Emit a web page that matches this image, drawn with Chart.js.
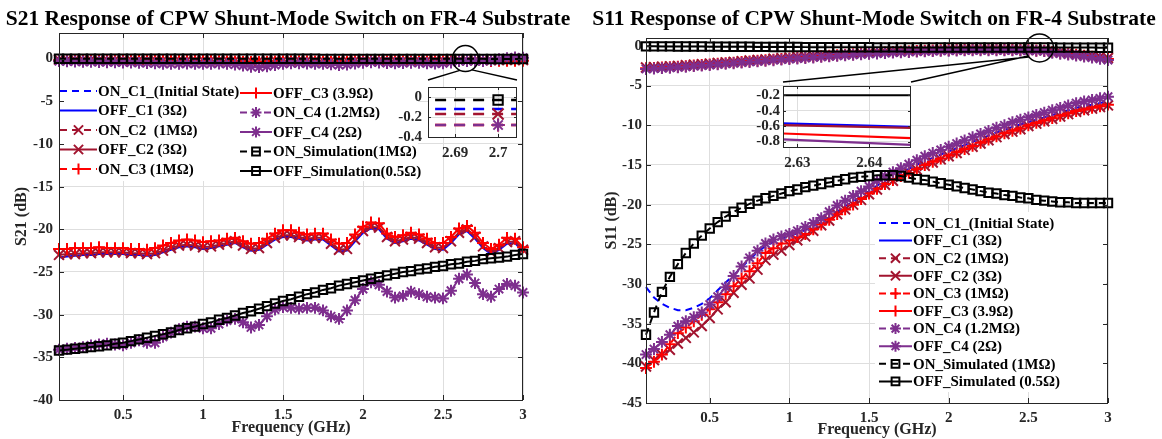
<!DOCTYPE html>
<html lang="en">
<head>
    <meta charset="UTF-8">
    <title>S21 / S11 Response of CPW Shunt-Mode Switch</title>
    <script src="https://cdn.jsdelivr.net/npm/chart.js"></script>
    <style>
        body { margin: 0; background: #fff; }
        #wrap { position: relative; width: 1162px; height: 439px; overflow: hidden; }
        #wrap canvas { position: absolute; }
        .title {
            position: absolute; top: 4px; height: 28px; line-height: 28px;
            transform: translateX(-50%); white-space: nowrap;
            font-family: 'Liberation Serif', 'Times New Roman', serif;
            font-weight: bold; font-size: 21.5px; color: #000;
        }
    </style>
</head>
<body>
<div id="wrap">
    <canvas id="s21" width="585" height="439" style="left:0;top:0;width:585px;height:439px"></canvas>
    <canvas id="s11" width="577" height="439" style="left:585px;top:0;width:577px;height:439px"></canvas>
    <canvas id="s21in" width="151" height="95" style="left:380px;top:72px;width:151px;height:95px"></canvas>
    <canvas id="s11in" width="190" height="103" style="left:735px;top:74px;width:190px;height:103px"></canvas>
    <div class="title" style="left:288px">S21 Response of CPW Shunt-Mode Switch on FR-4 Substrate</div>
    <div class="title" style="left:874px">S11 Response of CPW Shunt-Mode Switch on FR-4 Substrate</div>
</div>

<script>
// frequency points (GHz)
const freq = [
    0.1, 0.15, 0.2, 0.25, 0.3, 0.35, 0.4, 0.45, 0.5, 0.55,
    0.6, 0.65, 0.7, 0.75, 0.8, 0.85, 0.9, 0.95, 1.0, 1.05,
    1.1, 1.15, 1.2, 1.25, 1.3, 1.35, 1.4, 1.45, 1.5, 1.55,
    1.6, 1.65, 1.7, 1.75, 1.8, 1.85, 1.9, 1.95, 2.0, 2.05,
    2.1, 2.15, 2.2, 2.25, 2.3, 2.35, 2.4, 2.45, 2.5, 2.55,
    2.6, 2.65, 2.7, 2.75, 2.8, 2.85, 2.9, 2.95, 3.0
];

// ---- S21 (dB) ----
const s21OnC1 = [
    -0.08, -0.08, -0.09, -0.09, -0.09, -0.1, -0.1, -0.1, -0.1, -0.11,
    -0.11, -0.11, -0.12, -0.12, -0.12, -0.12, -0.13, -0.13, -0.13, -0.13,
    -0.14, -0.14, -0.15, -0.16, -0.17, -0.17, -0.16, -0.15, -0.14, -0.14,
    -0.14, -0.15, -0.15, -0.15, -0.16, -0.17, -0.16, -0.15, -0.14, -0.13,
    -0.13, -0.14, -0.14, -0.14, -0.13, -0.13, -0.14, -0.14, -0.14, -0.13,
    -0.12, -0.12, -0.12, -0.12, -0.12, -0.11, -0.1, -0.1, -0.11
];
const s21OffC1 = [
    -23.3, -23.2, -23.1, -23.0, -23.0, -22.9, -22.9, -22.9, -22.9, -23.0,
    -23.0, -23.1, -23.0, -22.7, -22.4, -22.1, -22.0, -22.1, -22.3, -22.2,
    -22.0, -21.8, -21.6, -22.1, -22.5, -22.4, -21.8, -21.2, -20.9, -20.9,
    -21.1, -21.3, -21.2, -21.2, -21.9, -22.6, -22.5, -21.4, -20.4, -19.9,
    -20.0, -21.1, -21.6, -21.4, -21.1, -21.3, -21.8, -22.3, -22.4, -21.6,
    -20.6, -20.2, -21.1, -22.2, -22.9, -22.4, -21.7, -21.6, -22.6
];
const s21OnC2 = [
    -0.12, -0.12, -0.13, -0.13, -0.13, -0.14, -0.14, -0.14, -0.15, -0.15,
    -0.15, -0.16, -0.16, -0.17, -0.17, -0.17, -0.18, -0.18, -0.18, -0.18,
    -0.19, -0.19, -0.2, -0.22, -0.24, -0.24, -0.22, -0.2, -0.19, -0.19,
    -0.19, -0.2, -0.2, -0.21, -0.22, -0.23, -0.22, -0.2, -0.19, -0.18,
    -0.18, -0.19, -0.19, -0.19, -0.18, -0.18, -0.19, -0.19, -0.19, -0.18,
    -0.17, -0.17, -0.17, -0.17, -0.17, -0.16, -0.15, -0.15, -0.16
];
const s21OffC2 = [
    -23.0, -22.9, -22.9, -22.8, -22.8, -22.7, -22.7, -22.7, -22.7, -22.8,
    -22.8, -22.9, -22.8, -22.5, -22.2, -21.9, -21.8, -21.9, -22.1, -22.0,
    -21.8, -21.6, -21.4, -21.9, -22.3, -22.2, -21.6, -21.0, -20.7, -20.7,
    -20.9, -21.1, -21.0, -21.0, -21.7, -22.4, -22.3, -21.2, -20.2, -19.7,
    -19.8, -20.9, -21.4, -21.2, -20.9, -21.1, -21.6, -22.1, -22.2, -21.4,
    -20.4, -20.0, -20.9, -22.0, -22.7, -22.2, -21.5, -21.4, -22.4
];
const s21OnC3 = [
    -0.18, -0.18, -0.19, -0.19, -0.2, -0.2, -0.21, -0.21, -0.22, -0.22,
    -0.23, -0.23, -0.24, -0.25, -0.26, -0.26, -0.27, -0.27, -0.28, -0.28,
    -0.29, -0.3, -0.32, -0.35, -0.38, -0.38, -0.35, -0.32, -0.3, -0.3,
    -0.3, -0.31, -0.32, -0.33, -0.35, -0.36, -0.34, -0.31, -0.29, -0.28,
    -0.28, -0.29, -0.3, -0.3, -0.29, -0.29, -0.3, -0.31, -0.31, -0.3,
    -0.28, -0.28, -0.28, -0.28, -0.28, -0.27, -0.26, -0.25, -0.26
];
const s21OffC3 = [
    -22.3, -22.3, -22.2, -22.2, -22.2, -22.1, -22.2, -22.2, -22.2, -22.3,
    -22.3, -22.4, -22.2, -21.9, -21.6, -21.3, -21.2, -21.3, -21.5, -21.4,
    -21.3, -21.1, -21.0, -21.4, -21.7, -21.6, -21.1, -20.5, -20.1, -20.1,
    -20.4, -20.6, -20.5, -20.5, -21.2, -21.7, -21.6, -20.6, -19.7, -19.2,
    -19.3, -20.5, -20.9, -20.7, -20.4, -20.6, -21.1, -21.6, -21.6, -20.9,
    -19.9, -19.6, -20.4, -21.6, -22.3, -21.8, -21.0, -21.1, -22.1
];
const s21OnC4 = [
    -0.3, -0.32, -0.35, -0.37, -0.38, -0.4, -0.42, -0.44, -0.45, -0.47,
    -0.5, -0.52, -0.55, -0.6, -0.62, -0.6, -0.58, -0.6, -0.62, -0.6,
    -0.58, -0.62, -0.7, -0.82, -0.95, -1.0, -0.9, -0.75, -0.62, -0.55,
    -0.55, -0.58, -0.6, -0.62, -0.68, -0.75, -0.7, -0.58, -0.48, -0.42,
    -0.45, -0.52, -0.55, -0.52, -0.48, -0.5, -0.55, -0.58, -0.55, -0.45,
    -0.3, -0.28, -0.28, -0.28, -0.2, -0.08, 0.05, 0.15, 0.1
];
const s21OffC4 = [
    -34.1, -34.0, -33.9, -33.8, -33.6, -33.5, -33.4, -33.5, -33.6, -33.3,
    -33.0, -33.3, -33.3, -32.6, -32.1, -31.7, -31.4, -31.4, -31.6, -31.6,
    -31.1, -30.7, -30.5, -30.9, -31.5, -31.2, -30.2, -29.4, -29.1, -29.2,
    -29.3, -29.2, -29.2, -29.5, -30.2, -30.5, -29.5, -28.3, -27.0, -26.2,
    -26.5, -27.3, -28.0, -27.8, -27.3, -27.6, -27.9, -28.0, -28.1, -27.2,
    -25.8, -25.3, -26.3, -27.6, -27.9, -27.0, -26.4, -26.6, -27.4
];
const s21OnSim = [
    -0.01, -0.01, -0.01, -0.01, -0.01, -0.01, -0.01, -0.01, -0.01, -0.01,
    -0.01, -0.01, -0.02, -0.02, -0.02, -0.02, -0.02, -0.02, -0.02, -0.02,
    -0.02, -0.02, -0.02, -0.02, -0.02, -0.02, -0.02, -0.02, -0.02, -0.02,
    -0.02, -0.02, -0.02, -0.03, -0.03, -0.03, -0.03, -0.03, -0.03, -0.03,
    -0.03, -0.03, -0.03, -0.03, -0.03, -0.03, -0.03, -0.03, -0.03, -0.03,
    -0.03, -0.03, -0.03, -0.03, -0.04, -0.04, -0.04, -0.04, -0.04
];
const s21OffSim = [
    -34.2, -34.1, -34.0, -33.9, -33.8, -33.7, -33.6, -33.4, -33.3, -33.1,
    -32.9, -32.7, -32.5, -32.3, -32.1, -31.8, -31.6, -31.4, -31.1, -30.9,
    -30.6, -30.4, -30.1, -29.8, -29.6, -29.3, -29.0, -28.7, -28.4, -28.2,
    -27.9, -27.6, -27.4, -27.1, -26.9, -26.6, -26.4, -26.2, -26.0, -25.8,
    -25.6, -25.4, -25.2, -25.0, -24.9, -24.7, -24.6, -24.4, -24.3, -24.1,
    -24.0, -23.8, -23.7, -23.5, -23.4, -23.3, -23.2, -23.0, -22.9
];

// ---- S11 (dB) ----
const s11OnC1 = [
    -30.4, -31.7, -32.5, -33.0, -33.3, -33.3, -33.0, -32.5, -31.8, -30.8,
    -29.8, -28.9, -27.9, -26.9, -26.0, -25.2, -24.7, -24.3, -24.0, -23.6,
    -23.2, -22.7, -22.2, -21.6, -20.9, -20.2, -19.6, -19.0, -18.3, -17.6,
    -17.0, -16.5, -16.0, -15.5, -15.0, -14.5, -14.1, -13.7, -13.3, -12.9,
    -12.5, -12.1, -11.7, -11.3, -10.9, -10.6, -10.2, -9.9, -9.6, -9.3,
    -9.0, -8.7, -8.4, -8.1, -7.8, -7.6, -7.4, -7.2, -7.0
];
const s11OffC1 = [
    -2.7, -2.65, -2.6, -2.55, -2.5, -2.42, -2.35, -2.28, -2.2, -2.13,
    -2.05, -1.98, -1.9, -1.82, -1.75, -1.68, -1.6, -1.52, -1.45, -1.38,
    -1.32, -1.25, -1.18, -1.12, -1.05, -0.98, -0.92, -0.86, -0.8, -0.75,
    -0.7, -0.65, -0.6, -0.56, -0.52, -0.48, -0.45, -0.42, -0.4, -0.38,
    -0.37, -0.36, -0.36, -0.36, -0.37, -0.38, -0.4, -0.42, -0.44, -0.46,
    -0.49, -0.62, -0.73, -0.84, -0.96, -1.08, -1.21, -1.35, -1.5
];
const s11OnC2 = [
    -40.4, -39.6, -38.9, -38.3, -37.5, -36.8, -36.1, -35.3, -34.3, -33.2,
    -32.3, -31.1, -30.1, -29.3, -28.2, -27.0, -26.3, -25.8, -25.1, -24.5,
    -24.0, -23.3, -22.6, -22.0, -21.2, -20.6, -20.0, -19.4, -18.7, -18.1,
    -17.5, -17.0, -16.5, -16.0, -15.6, -15.1, -14.7, -14.3, -13.9, -13.5,
    -13.1, -12.7, -12.3, -11.9, -11.5, -11.1, -10.8, -10.5, -10.1, -9.8,
    -9.5, -9.2, -8.9, -8.6, -8.3, -8.1, -7.9, -7.7, -7.5
];
const s11OffC2 = [
    -2.72, -2.67, -2.62, -2.57, -2.52, -2.44, -2.37, -2.3, -2.22, -2.15,
    -2.07, -2.0, -1.92, -1.84, -1.77, -1.7, -1.62, -1.54, -1.47, -1.4,
    -1.34, -1.27, -1.2, -1.14, -1.07, -1.0, -0.94, -0.88, -0.82, -0.77,
    -0.72, -0.67, -0.62, -0.58, -0.54, -0.5, -0.47, -0.44, -0.42, -0.4,
    -0.39, -0.38, -0.38, -0.38, -0.39, -0.4, -0.42, -0.44, -0.47, -0.5,
    -0.53, -0.63, -0.74, -0.85, -0.97, -1.09, -1.22, -1.36, -1.51
];
const s11OnC3 = [
    -40.6, -39.8, -38.9, -37.6, -36.2, -35.5, -34.7, -33.9, -33.2, -32.3,
    -31.3, -30.3, -29.3, -28.4, -27.4, -26.1, -25.5, -24.9, -24.5, -24.1,
    -23.7, -23.1, -22.5, -21.9, -21.2, -20.6, -20.0, -19.3, -18.6, -18.0,
    -17.4, -16.9, -16.4, -16.0, -15.5, -15.0, -14.6, -14.2, -13.8, -13.4,
    -13.0, -12.6, -12.2, -11.8, -11.4, -11.0, -10.7, -10.4, -10.0, -9.7,
    -9.4, -9.1, -8.8, -8.5, -8.2, -8.0, -7.8, -7.6, -7.4
];
const s11OffC3 = [
    -2.82, -2.77, -2.72, -2.67, -2.62, -2.54, -2.47, -2.4, -2.32, -2.25,
    -2.17, -2.1, -2.02, -1.94, -1.87, -1.8, -1.72, -1.64, -1.57, -1.5,
    -1.44, -1.37, -1.3, -1.24, -1.17, -1.1, -1.04, -0.98, -0.92, -0.87,
    -0.82, -0.77, -0.72, -0.68, -0.64, -0.6, -0.57, -0.54, -0.52, -0.5,
    -0.48, -0.47, -0.46, -0.46, -0.47, -0.48, -0.5, -0.52, -0.54, -0.57,
    -0.6, -0.77, -0.88, -0.99, -1.1, -1.22, -1.35, -1.49, -1.64
];
const s11OnC4 = [
    -38.9, -38.2, -37.3, -36.4, -35.3, -34.7, -34.2, -33.6, -32.6, -31.6,
    -30.4, -29.0, -27.8, -26.7, -25.8, -24.9, -24.4, -24.0, -23.7, -23.3,
    -22.8, -22.3, -21.7, -20.9, -20.1, -19.5, -18.9, -18.3, -17.7, -17.0,
    -16.4, -15.9, -15.4, -14.9, -14.4, -13.9, -13.5, -13.1, -12.7, -12.3,
    -11.9, -11.5, -11.1, -10.7, -10.3, -10.0, -9.6, -9.3, -9.0, -8.7,
    -8.4, -8.1, -7.8, -7.5, -7.2, -7.0, -6.8, -6.6, -6.4
];
const s11OffC4 = [
    -2.9, -2.85, -2.8, -2.75, -2.7, -2.62, -2.55, -2.48, -2.4, -2.33,
    -2.25, -2.18, -2.1, -2.02, -1.95, -1.88, -1.8, -1.72, -1.65, -1.58,
    -1.52, -1.45, -1.38, -1.32, -1.25, -1.18, -1.12, -1.06, -1.0, -0.95,
    -0.9, -0.85, -0.8, -0.76, -0.72, -0.68, -0.65, -0.62, -0.6, -0.58,
    -0.56, -0.55, -0.54, -0.54, -0.54, -0.55, -0.56, -0.58, -0.6, -0.63,
    -0.66, -0.86, -0.98, -1.1, -1.22, -1.35, -1.48, -1.62, -1.78
];
const s11OnSim = [
    -36.4, -33.6, -31.0, -29.1, -27.5, -26.1, -24.9, -23.9, -23.0, -22.2,
    -21.5, -20.9, -20.4, -19.9, -19.5, -19.2, -18.9, -18.6, -18.3, -18.1,
    -17.8, -17.6, -17.4, -17.2, -17.0, -16.8, -16.6, -16.5, -16.4, -16.3,
    -16.3, -16.3, -16.4, -16.6, -16.8, -16.9, -17.1, -17.3, -17.5, -17.7,
    -17.9, -18.1, -18.3, -18.5, -18.6, -18.8, -18.9, -19.1, -19.2, -19.4,
    -19.5, -19.6, -19.7, -19.7, -19.8, -19.8, -19.8, -19.8, -19.8
];
const s11OffSim = [
    -0.05, -0.05, -0.06, -0.06, -0.07, -0.07, -0.08, -0.08, -0.09, -0.09,
    -0.1, -0.1, -0.11, -0.11, -0.12, -0.12, -0.13, -0.13, -0.14, -0.14,
    -0.15, -0.15, -0.15, -0.16, -0.16, -0.16, -0.17, -0.17, -0.17, -0.18,
    -0.18, -0.18, -0.18, -0.19, -0.19, -0.19, -0.19, -0.19, -0.2, -0.2,
    -0.2, -0.2, -0.2, -0.2, -0.2, -0.2, -0.2, -0.2, -0.2, -0.2,
    -0.2, -0.2, -0.21, -0.21, -0.21, -0.21, -0.21, -0.22, -0.22
];

const s21Labels = ['ON_C1_(Initial State)', 'OFF_C1 (3\u03A9)', 'ON_C2  (1M\u03A9)', 'OFF_C2 (3\u03A9)', 'ON_C3 (1M\u03A9)',
    'OFF_C3 (3.9\u03A9)', 'ON_C4 (1.2M\u03A9)', 'OFF_C4 (2\u03A9)', 'ON_Simulation(1M\u03A9)', 'OFF_Simulation(0.5\u03A9)'];
const s11Labels = ['ON_C1_(Initial State)', 'OFF_C1 (3\u03A9)', 'ON_C2 (1M\u03A9)', 'OFF_C2 (3\u03A9)', 'ON_C3 (1M\u03A9)',
    'OFF_C3 (3.9\u03A9)', 'ON_C4 (1.2M\u03A9)', 'OFF_C4 (2\u03A9)', 'ON_Simulated (1M\u03A9)', 'OFF_Simulated (0.5\u03A9)'];

// tick values
const freqTicks = [0.5, 1, 1.5, 2, 2.5, 3];
const s21Ticks = [-40, -35, -30, -25, -20, -15, -10, -5, 0];
const s11Ticks = [-45, -40, -35, -30, -25, -20, -15, -10, -5, 0];
const s21ZoomFreqTicks = [2.69, 2.7];
const s21ZoomTicks = [-0.4, -0.2, 0];
const s11ZoomFreqTicks = [2.63, 2.64];
const s11ZoomTicks = [-0.8, -0.6, -0.4, -0.2];

const s21Series = [s21OnC1, s21OffC1, s21OnC2, s21OffC2, s21OnC3, s21OffC3, s21OnC4, s21OffC4, s21OnSim, s21OffSim];
const s11Series = [s11OnC1, s11OffC1, s11OnC2, s11OffC2, s11OnC3, s11OffC3, s11OnC4, s11OffC4, s11OnSim, s11OffSim];

// ---- styling ----
const FONT = "'Liberation Serif', 'Times New Roman', serif";
const AX = '#262626';
const GRID = '#dedede';
const BLUE = '#0000ff', DRED = '#a2142f', RED = '#ff0000', PURP = '#7e2f8e', BLK = '#000000';

// one entry per series: colour, dashed?, marker, marker scale
const STYLES = [
    { c: BLUE, dash: true,  ps: null },
    { c: BLUE, dash: false, ps: null },
    { c: DRED, dash: true,  ps: 'crossRot', k: 1.3 },
    { c: DRED, dash: false, ps: 'crossRot', k: 1.3 },
    { c: RED,  dash: true,  ps: 'cross', k: 1.1 },
    { c: RED,  dash: false, ps: 'cross', k: 1.1 },
    { c: PURP, dash: true,  ps: 'star', k: 1.1 },
    { c: PURP, dash: false, ps: 'star', k: 1.1 },
    { c: BLK,  dash: true,  ps: 'rect', k: 1.1 },
    { c: BLK,  dash: false, ps: 'rect', k: 1.1 }
];

const fmt = v => String(Math.round(v * 10000) / 10000);

function buildSets(series, labels, o) {
    return series.map((ys, i) => {
        const st = STYLES[i];
        const set = {
            label: labels[i],
            data: freq.map((f, k) => ({ x: f, y: ys[k] })),
            borderColor: st.c,
            backgroundColor: 'rgba(0,0,0,0)',
            borderWidth: o.lw,
            borderDash: st.dash ? o.dash : [],
            pointStyle: st.ps || 'circle',
            pointRadius: st.ps ? o.r * st.k : 0,
            pointHoverRadius: 0,
            pointBorderColor: st.c,
            pointBackgroundColor: 'rgba(0,0,0,0)',
            pointBorderWidth: o.pw,
            tension: 0,
            order: -i
        };
        if (o.clip !== undefined) set.clip = o.clip;
        return set;
    });
}

function makeScales(o) {
    const tickFont = { family: FONT, size: 15, weight: 'bold' };
    const titleFont = { family: FONT, size: 16, weight: 'bold' };
    return {
        x: {
            type: 'linear', min: o.x[0], max: o.x[1],
            afterFit: s => { s.height = o.xh; },
            afterBuildTicks: s => { s.ticks = o.xt.map(v => ({ value: v })); },
            ticks: { padding: o.xpad, color: AX, font: tickFont, maxRotation: 0, autoSkip: false, callback: fmt },
            grid: { color: GRID, drawTicks: false },
            border: { display: false },
            title: o.xtitle ? { display: true, text: o.xtitle, color: AX, font: titleFont, padding: { top: 0, bottom: o.xtpad } } : { display: false }
        },
        y: {
            type: 'linear', min: o.y[0], max: o.y[1],
            afterFit: s => { s.width = o.yw; },
            afterBuildTicks: s => { s.ticks = o.yt.map(v => ({ value: v })); },
            ticks: { padding: o.ypad, color: AX, font: tickFont, autoSkip: false, callback: fmt },
            grid: { color: GRID, drawTicks: false },
            border: { display: false },
            title: o.ytitle ? { display: true, text: o.ytitle, color: AX, font: titleFont, padding: { top: o.ytpad, bottom: 0 } } : { display: false }
        }
    };
}

// axes box + inward tick marks (+ optional white plot background)
function framePlugin(tickLen, fill) {
    return {
        id: 'frame',
        beforeDraw(chart) {
            if (!fill) return;
            const a = chart.chartArea, ctx = chart.ctx;
            ctx.save();
            ctx.fillStyle = fill;
            ctx.fillRect(a.left, a.top, a.right - a.left, a.bottom - a.top);
            ctx.restore();
        },
        afterDraw(chart) {
            const { ctx, chartArea: a, scales: { x, y } } = chart;
            ctx.save();
            ctx.strokeStyle = AX;
            ctx.lineWidth = 1;
            ctx.setLineDash([]);
            ctx.beginPath();
            x.ticks.forEach(t => {
                const p = Math.round(x.getPixelForValue(t.value)) + 0.5;
                ctx.moveTo(p, a.bottom); ctx.lineTo(p, a.bottom - tickLen);
                ctx.moveTo(p, a.top); ctx.lineTo(p, a.top + tickLen);
            });
            y.ticks.forEach(t => {
                const p = Math.round(y.getPixelForValue(t.value)) + 0.5;
                ctx.moveTo(a.left, p); ctx.lineTo(a.left + tickLen, p);
                ctx.moveTo(a.right, p); ctx.lineTo(a.right - tickLen, p);
            });
            ctx.stroke();
            ctx.strokeRect(Math.round(a.left) + 0.5, Math.round(a.top) + 0.5,
                Math.round(a.right - a.left) - 1, Math.round(a.bottom - a.top));
            ctx.restore();
        }
    };
}

function drawMarker(ctx, ps, x, y, r) {
    ctx.beginPath();
    if (ps === 'rect') {
        const s = r * Math.SQRT1_2;
        ctx.rect(x - s, y - s, 2 * s, 2 * s);
    }
    if (ps === 'cross' || ps === 'star') {
        ctx.moveTo(x - r, y); ctx.lineTo(x + r, y);
        ctx.moveTo(x, y - r); ctx.lineTo(x, y + r);
    }
    if (ps === 'crossRot' || ps === 'star') {
        const s = r * Math.SQRT1_2;
        ctx.moveTo(x - s, y - s); ctx.lineTo(x + s, y + s);
        ctx.moveTo(x - s, y + s); ctx.lineTo(x + s, y - s);
    }
    ctx.stroke();
}

// legend, zoom circle and connectors
function decorPlugin(o) {
    return {
        id: 'decor',
        afterDatasetsDraw(chart) {
            const ctx = chart.ctx;
            const { x, y } = chart.scales;
            ctx.save();
            // legend
            ctx.fillStyle = '#fff';
            ctx.fillRect(o.bg[0], o.bg[1], o.bg[2] - o.bg[0], o.bg[3] - o.bg[1]);
            ctx.font = 'bold 15px ' + FONT;
            ctx.textBaseline = 'middle';
            o.entries.forEach((e, i) => {
                const st = STYLES[i];
                ctx.strokeStyle = st.c;
                ctx.lineWidth = 2;
                ctx.setLineDash(st.dash ? [7, 5] : []);
                ctx.beginPath();
                ctx.moveTo(e.x, e.y); ctx.lineTo(e.x + e.len, e.y);
                ctx.stroke();
                ctx.setLineDash([]);
                if (st.ps) {
                    ctx.lineWidth = 2;
                    drawMarker(ctx, st.ps, e.x + e.len / 2, e.y, 5 * st.k);
                }
                ctx.fillStyle = '#000';
                ctx.fillText(chart.data.datasets[i].label, e.x + e.len + 1, e.y + 1);
            });
            // magnifier circle and lines to the inset
            const cx = x.getPixelForValue(o.circle[0]), cy = y.getPixelForValue(o.circle[1]);
            ctx.strokeStyle = '#000';
            ctx.lineWidth = 1.5;
            ctx.beginPath();
            ctx.arc(cx, cy, o.circle[2], 0, Math.PI * 2);
            ctx.stroke();
            ctx.beginPath();
            o.links.forEach(l => {
                const ang = l.a * Math.PI / 180;
                ctx.moveTo(cx + o.circle[2] * Math.cos(ang), cy + o.circle[2] * Math.sin(ang));
                ctx.lineTo(l.to[0] - o.dx, l.to[1]);
            });
            ctx.stroke();
            ctx.restore();
        }
    };
}

function legendRows(x, len, y0, dy, n) {
    const rows = [];
    for (let i = 0; i < n; i++) rows.push({ x: x, len: len, y: y0 + i * dy });
    return rows;
}

const common = {
    responsive: false,
    animation: false,
    events: [],
    plugins: { legend: { display: false }, tooltip: { enabled: false } }
};

// ---- S21 main ----
new Chart(document.getElementById('s21'), {
    type: 'line',
    data: { datasets: buildSets(s21Series, s21Labels, { lw: 2, dash: [7, 5], r: 5.4, pw: 2, clip: false }) },
    options: Object.assign({}, common, {
        layout: { padding: { left: 0, right: 62, top: 33, bottom: 0 } },
        scales: makeScales({
            x: [0.1, 3], xt: freqTicks, xh: 39, xpad: 6, xtitle: 'Frequency (GHz)', xtpad: 2,
            y: [-40, 3], yt: s21Ticks, yw: 59, ypad: 6, ytitle: 'S21 (dB)', ytpad: 12
        })
    }),
    plugins: [framePlugin(5), decorPlugin({
        bg: [60, 80, 418, 181],
        entries: legendRows(60, 37, 91, 19.5, 5).concat(legendRows(240, 32, 93, 19.5, 5)),
        circle: [2.64, 0, 13],
        links: [{ a: 115, to: [428, 80] }, { a: 60, to: [517, 80] }],
        dx: 0
    })]
});

// ---- S21 zoom inset ----
new Chart(document.getElementById('s21in'), {
    type: 'line',
    data: { datasets: buildSets(s21Series, s21Labels, { lw: 2.6, dash: [11, 8], r: 6, pw: 2 }) },
    options: Object.assign({}, common, {
        layout: { padding: { left: 0, right: 14, top: 8, bottom: 0 } },
        scales: makeScales({
            x: [2.6837, 2.7044], xt: s21ZoomFreqTicks, xh: 30, xpad: 7,
            y: [-0.4, 0.1], yt: s21ZoomTicks, yw: 48, ypad: 6
        })
    }),
    plugins: [framePlugin(3, '#fff')]
});

// ---- S11 main ----
new Chart(document.getElementById('s11'), {
    type: 'line',
    data: { datasets: buildSets(s11Series, s11Labels, { lw: 2, dash: [7, 5], r: 5.4, pw: 2, clip: false }) },
    options: Object.assign({}, common, {
        layout: { padding: { left: 0, right: 54, top: 38, bottom: 0 } },
        scales: makeScales({
            x: [0.1, 3], xt: freqTicks, xh: 36, xpad: 6, xtitle: 'Frequency (GHz)', xtpad: 0,
            y: [-45, 1], yt: s11Ticks, yw: 61, ypad: 4, ytitle: 'S11 (dB)', ytpad: 17
        })
    }),
    plugins: [framePlugin(5), decorPlugin({
        bg: [290, 212, 521, 392],
        entries: legendRows(294, 33, 223, 17.6, 10),
        circle: [2.57, -0.25, 14],
        links: [{ a: 140, to: [783, 82] }, { a: 145, to: [911, 82] }],
        dx: 585
    })]
});

// ---- S11 zoom inset ----
new Chart(document.getElementById('s11in'), {
    type: 'line',
    data: { datasets: buildSets(s11Series, s11Labels, { lw: 2.2, dash: [11, 8], r: 6, pw: 2 }) },
    options: Object.assign({}, common, {
        layout: { padding: { left: 0, right: 14, top: 8, bottom: 0 } },
        scales: makeScales({
            x: [2.628, 2.6458], xt: s11ZoomFreqTicks, xh: 30, xpad: 7,
            y: [-0.87, -0.08], yt: s11ZoomTicks, yw: 48, ypad: 3
        })
    }),
    plugins: [framePlugin(3, '#fff')]
});
</script>
</body>
</html>
